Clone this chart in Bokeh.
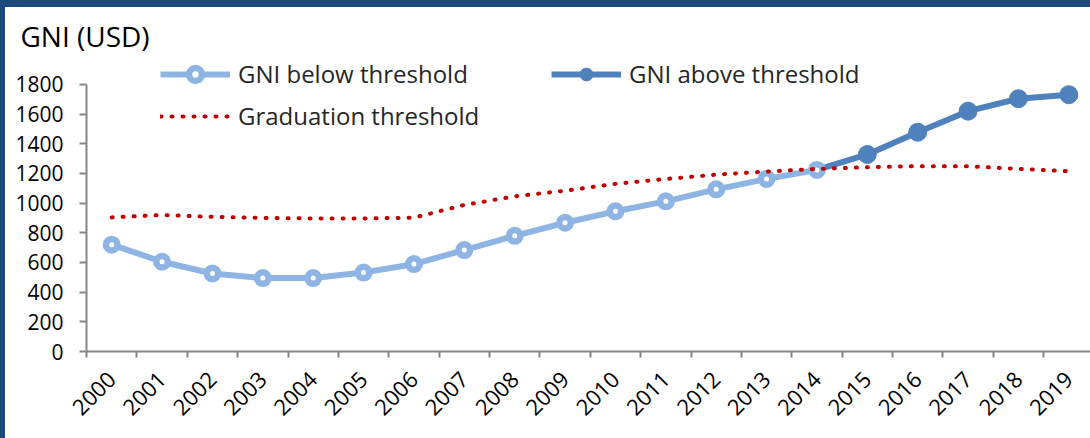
import math
import numpy as np
from bokeh.plotting import figure
from bokeh.layouts import column, row
from bokeh.models import Range1d, FixedTicker, Legend, LegendItem, ColumnDataSource, Div
from bokeh.embed import file_html
from bokeh.resources import INLINE

# ---- data ----
years = [2000, 2001, 2002, 2003, 2004, 2005, 2006, 2007, 2008, 2009,
         2010, 2011, 2012, 2013, 2014, 2015, 2016, 2017, 2018, 2019]
gni_below = [720, 605, 526, 495, 495, 532, 589, 684, 780, 868,
             945, 1012, 1093, 1163, 1224, None, None, None, None, None]
gni_above = [None, None, None, None, None, None, None, None, None, None,
             None, None, None, None, 1224, 1328, 1478, 1620, 1704, 1731]
threshold = [904, 920, 908, 900, 897, 897, 902, 988, 1046, 1084,
             1130, 1163, 1192, 1213, 1231, 1242, 1249, 1249, 1231, 1215]
y_ticks = [0, 200, 400, 600, 800, 1000, 1200, 1400, 1600, 1800]
y_label = "GNI (USD)"
label_below = "GNI below threshold"
label_above = "GNI above threshold"
label_thr = "Graduation threshold"

def arr(v):
    return np.array([np.nan if x is None else x for x in v], dtype=float)

below = arr(gni_below)
above = arr(gni_above)
above_markers = np.where(np.isnan(below), above, np.nan)

FONT = "Open Sans"
AXIS = "#868686"
LIGHT = "#8EB4E3"
DARK = "#4F81BD"
RED = "#C00000"
FRAME_BLUE = "#1F497D"

p = figure(width=1085, height=431, output_backend="svg", toolbar_location=None,
           x_range=Range1d(1999.5, 2019.43), y_range=Range1d(0, 2002),
           min_border_left=81, min_border_right=0, min_border_top=47, min_border_bottom=87)
p.outline_line_color = None
p.grid.visible = False
p.background_fill_color = "white"
p.border_fill_color = "white"

# title (axis caption above the plot)
p.title.text = y_label
p.title.text_font = FONT
p.title.text_font_size = "28px"
p.title.text_font_style = "normal"
p.title.text_color = "black"
p.title.align = "left"
p.title.offset = -66
p.title.standoff = 0

src = ColumnDataSource(dict(x=years, below=below, above=above, above_m=above_markers,
                            thr=np.array(threshold, dtype=float)))

l_above = p.line("x", "above", source=src, line_color=DARK, line_width=6)
s_above = p.scatter("x", "above_m", source=src, size=18, fill_color=DARK, line_color=DARK, line_width=1)
l_below = p.line("x", "below", source=src, line_color=LIGHT, line_width=6)
s_below = p.scatter("x", "below", source=src, size=11.5, fill_color="white", line_color=LIGHT, line_width=6.5)
l_thr = p.line("x", "thr", source=src, line_color=RED, line_width=4, line_dash="1 10", line_cap="round")

# axes
xa = p.xaxis[0]
xa.ticker = FixedTicker(ticks=years, minor_ticks=[y - 0.5 for y in years] + [years[-1] + 0.5])
xa.major_label_overrides = {y: str(y) for y in years}
xa.major_tick_line_color = None
xa.major_tick_out = 6
xa.major_tick_in = 0
xa.minor_tick_line_color = AXIS
xa.minor_tick_line_width = 2
xa.minor_tick_out = 6
xa.minor_tick_in = 0
xa.axis_line_color = AXIS
xa.axis_line_width = 2
xa.major_label_orientation = math.pi / 4
xa.major_label_text_font = FONT
xa.major_label_text_font_size = "22px"
xa.major_label_text_color = "black"
xa.major_label_standoff = 18

ya = p.yaxis[0]
ya.ticker = FixedTicker(ticks=y_ticks)
ya.bounds = (y_ticks[0], y_ticks[-1])
ya.major_label_overrides = {v: str(v) for v in y_ticks}
ya.minor_tick_line_color = None
ya.major_tick_line_color = AXIS
ya.major_tick_line_width = 2
ya.major_tick_out = 7
ya.major_tick_in = 0
ya.axis_line_color = AXIS
ya.axis_line_width = 2
ya.major_label_text_font = FONT
ya.major_label_text_font_size = "21px"
ya.major_label_text_color = "black"
ya.major_label_standoff = 16

# legends
common = dict(orientation="horizontal", padding=0, margin=0, spacing=12,
              glyph_width=70, glyph_height=32, label_height=32, label_standoff=8,
              label_width=301, label_text_font=FONT, label_text_font_size="24px",
              label_text_color="#262626", border_line_color=None,
              background_fill_alpha=0)
leg1 = Legend(items=[LegendItem(label=label_below, renderers=[l_below, s_below]),
                     LegendItem(label=label_above, renderers=[l_above, s_above])],
              location=(74, 261), **common)
leg2 = Legend(items=[LegendItem(label=label_thr, renderers=[l_thr])],
              location=(74, 219), **common)
p.add_layout(leg1)
p.add_layout(leg2)

# dark-blue frame bands (top and left edges of the reference)
top_band = Div(text="", width=1090, height=7, margin=0,
               styles={"background-color": FRAME_BLUE})
left_band = Div(text="", width=5, height=431, margin=0,
                styles={"background-color": FRAME_BLUE})
layout = column(top_band, row(left_band, p, spacing=0), spacing=0)

open("out.html", "w").write(file_html(layout, INLINE))
